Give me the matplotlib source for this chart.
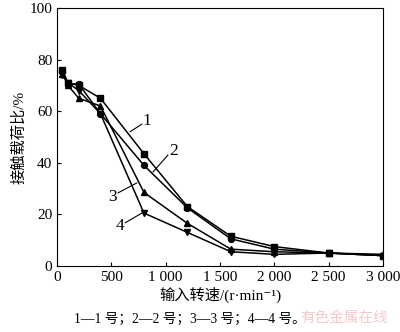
import matplotlib
matplotlib.use("Agg")
import matplotlib.pyplot as plt

plt.rcParams['font.family'] = ['Liberation Serif', 'Noto Sans CJK SC', 'DejaVu Sans']

speed = [50, 100, 200, 400, 800, 1200, 1600, 2000, 2500, 3000]
s1 = [76, 71, 70, 65, 43.5, 23, 11.5, 7.5, 5, 4]
s2 = [75.5, 70.5, 70.5, 59, 39, 22.5, 10.5, 6.5, 5, 4]
s3 = [74.5, 70, 65, 62, 28.5, 16.5, 6.5, 5.5, 5, 4.5]
s4 = [74, 71, 68, 59, 20.5, 13, 5.5, 4.5, 5, 4]
names = ["1", "2", "3", "4"]
markers = ["s", "o", "^", "v"]
xticks = [0, 500, 1000, 1500, 2000, 2500, 3000]
xticklabels = ["0", "500", "1 000", "1 500", "2 000", "2 500", "3 000"]

fig = plt.figure(figsize=(4, 3.32), dpi=100)
ax = fig.add_axes([0.1425, 0.199, 0.815, 0.777])

for y, m in zip([s1, s2, s3, s4], markers):
    ax.plot(speed, y, color='black', lw=1.1, marker=m, ms=4.2)

# curve labels: (point on curve, leader start, text position)
leaders = [((672, 52), (782, 55), (828, 56)),
           ((883, 36.4), (1021, 43), (1077, 44.5)),
           ((736, 32.2), (561, 28.3), (515, 26.7)),
           ((782, 20.5), (626, 16.7), (580, 15.5))]
for n, (p, q, t) in zip(names, leaders):
    ax.annotate("", xy=p, xytext=q,
                arrowprops=dict(arrowstyle='-', lw=0.8, color='black',
                                shrinkA=0, shrinkB=0))
    ax.text(t[0], t[1], n, fontsize=12.5, ha='center', va='center')

ax.set_xlim(0, 3000)
ax.set_ylim(0, 100)
ax.set_xticks(xticks)
ax.set_xticklabels(xticklabels)
ax.set_yticks([0, 20, 40, 60, 80, 100])
ax.tick_params(direction='in', labelsize=11, length=3, top=False, right=False)
ax.set_xlabel("输入转速/(r·min⁻¹)", fontsize=11, labelpad=2)
ax.set_ylabel("接触载荷比/%", fontsize=11, labelpad=2)

fig.text(0.475, 0.03, "1—1 号；2—2 号；3—3 号；4—4 号。", ha='center', fontsize=9.8)
fig.text(0.86, 0.03, "有色金属在线", ha='center', fontsize=10.5, color='#f6c9c9')

fig.savefig("out.png", dpi=100)
